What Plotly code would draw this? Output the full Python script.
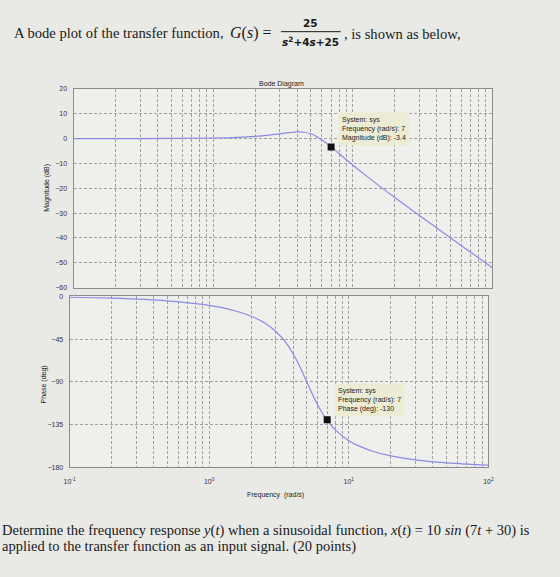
import numpy as np
import plotly.graph_objects as go

# ---- data ----
freq = [0.1, 0.2, 0.5, 1, 1.5, 2, 2.5, 3, 3.5, 4, 4.5, 5, 5.5, 6, 6.5, 7, 8, 10, 12, 15, 20, 30, 50, 70, 100]
mag_db = [0.0, 0.01, 0.06, 0.24, 0.53, 0.93, 1.41, 1.94, 2.41, 2.68, 2.56, 1.94, 0.87, -0.47, -1.93, -3.38,
          -6.10, -10.63, -14.21, -18.44, -23.71, -30.97, -39.94, -45.8, -52.03]
phase_deg = [-0.9, -1.8, -4.6, -9.5, -14.8, -20.9, -28.1, -36.9, -47.7, -60.6, -75.2, -90.0, -103.4, -114.6,
             -123.6, -130.6, -140.6, -151.9, -158.0, -163.3, -168.0, -172.2, -175.4, -176.7, -177.7]
tip_freq = 7
tip_mag = -3.4
tip_phase = -130
mag_ticks = [20, 10, 0, -10, -20, -30, -40, -50, -60]
phase_ticks = [0, -45, -90, -135, -180]
decades = [-1, 0, 1, 2]

line_col = "#8a8ae6"
grid_col = "#a0a0a0"
bg = "#e9e9e6"

# log grid: majors + minors, labels only at decades
xvals, xtext = [], []
for d in decades:
    for k in range(1, 10):
        if d == 2 and k > 1:
            break
        xvals.append(k * 10.0 ** d)
        xtext.append(f"10<sup>{d}</sup>" if k == 1 else "")

fig = go.Figure()
fig.add_trace(go.Scatter(x=freq, y=mag_db, mode="lines", line=dict(color=line_col, width=1.2, shape="spline"),
                         xaxis="x", yaxis="y", showlegend=False, hoverinfo="skip"))
fig.add_trace(go.Scatter(x=freq, y=phase_deg, mode="lines", line=dict(color=line_col, width=1.2, shape="spline"),
                         xaxis="x2", yaxis="y2", showlegend=False, hoverinfo="skip"))
fig.add_trace(go.Scatter(x=[tip_freq], y=[tip_mag], mode="markers",
                         marker=dict(symbol="square", size=7, color="#111"),
                         xaxis="x", yaxis="y", showlegend=False, hoverinfo="skip"))
fig.add_trace(go.Scatter(x=[tip_freq], y=[tip_phase], mode="markers",
                         marker=dict(symbol="square", size=7, color="#111"),
                         xaxis="x2", yaxis="y2", showlegend=False, hoverinfo="skip"))

W, H = 560, 577
def px(x):
    return x / W
def py(y):
    return 1 - y / H

common_x = dict(type="log", range=[-1, 2], tickmode="array", tickvals=xvals,
                showgrid=True, gridcolor=grid_col, griddash="3px,2px", gridwidth=0.8,
                showline=True, linecolor="#8c8c8c", linewidth=1, mirror=True,
                zeroline=False, ticks="", tickfont=dict(family="Liberation Sans", size=7, color="#333"))
common_y = dict(showgrid=True, gridcolor=grid_col, griddash="3px,2px", gridwidth=0.8,
                showline=True, linecolor="#8c8c8c", linewidth=1, mirror=True,
                zeroline=False, ticks="", tickfont=dict(family="Liberation Sans", size=7, color="#333"),
                ticklabelstandoff=4)

fig.update_layout(
    width=W, height=H, margin=dict(l=0, r=0, t=0, b=0),
    paper_bgcolor=bg, plot_bgcolor="#efefec",
    xaxis=dict(common_x, domain=[px(69), px(497)], ticktext=[""] * len(xvals), anchor="y"),
    yaxis=dict(common_y, domain=[py(287), py(86)], range=[-60, 20], tickvals=mag_ticks, anchor="x"),
    xaxis2=dict(common_x, domain=[px(65), px(493)], ticktext=xtext, anchor="y2", ticklabelstandoff=7),
    yaxis2=dict(common_y, domain=[py(469), py(296)], range=[-180, 0], tickvals=phase_ticks, anchor="x2"),
)

ann = []
serif = "Liberation Serif"
def T(x, y, text, size, family=serif, color="#1a1a1a", align="center", **kw):
    d = dict(x=px(x), y=py(y), xref="paper", yref="paper", xanchor="center", yanchor="middle",
             text=text, showarrow=False, align=align,
             font=dict(family=family, size=size, color=color))
    d.update(kw)
    return d

ann.append(T(115, 29, "A bode plot of the transfer function,", 14.6))
ann.append(T(250, 29, "<i>G</i>(<i>s</i>) =", 16))
ann.append(T(311, 19, "<b>25</b>", 10.5, family="DejaVu Sans"))
ann.append(T(311, 38, "<b><i>s</i><sup>2</sup>+4<i>s</i>+25</b>", 10.5, family="DejaVu Sans"))
ann.append(T(405, 30, ", is shown as below,", 14.6))
ann.append(T(282, 81, "Bode Diagram", 7, family="Liberation Sans", color="#222"))
ann.append(T(42, 186, "Magnitude (dB)", 7, family="Liberation Sans", color="#222", textangle=-90))
ann.append(T(39, 385, "Phase (deg)", 7, family="Liberation Sans", color="#222", textangle=-90))
ann.append(T(275, 497, "Frequency  (rad/s)", 7, family="Liberation Sans", color="#222"))
ann.append(T(376, 127, "System: sys<br>Frequency (rad/s): 7<br>Magnitude (dB): -3.4", 7,
             family="Liberation Sans", color="#222", align="left", bgcolor="#ecebd4", borderpad=3))
ann.append(T(371, 401, "System: sys<br>Frequency (rad/s): 7<br>Phase (deg): -130", 7,
             family="Liberation Sans", color="#222", align="left", bgcolor="#ecebd4", borderpad=3))
ann.append(T(266, 533, "Determine the frequency response <i>y</i>(<i>t</i>) when a sinusoidal function, "
                       "<i>x</i>(<i>t</i>) = 10 <i>sin</i> (7<i>t</i> + 30) is", 14.5))
ann.append(T(177, 549, "applied to the transfer function as an input signal. (20 points)", 14.5))
fig.update_layout(annotations=ann)

fig.add_shape(type="line", xref="paper", yref="paper", x0=px(281), x1=px(342), y0=py(28), y1=py(28),
              line=dict(color="#1a1a1a", width=1))

fig.write_html("out.html")
